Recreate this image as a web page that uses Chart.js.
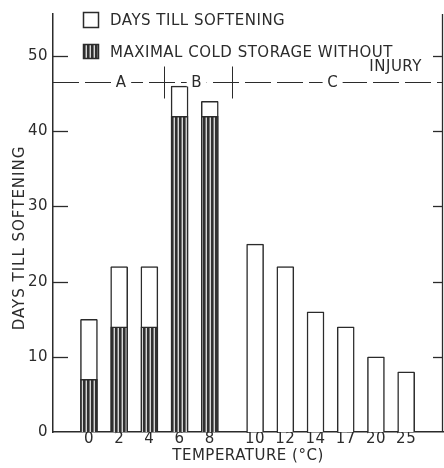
<!DOCTYPE html>
<html>
<head>
<meta charset="utf-8">
<script src="https://cdn.jsdelivr.net/npm/chart.js@4"></script>
<style>
  html, body { margin: 0; padding: 0; background: #fff; }
  #box { width: 444px; height: 468px; }
</style>
</head>
<body>
<div id="box"><canvas id="myChart"></canvas></div>
<script>
const temps = ["0", "2", "4", "6", "8", "10", "12", "14", "17", "20", "25"];
const daysTillSoftening = [15, 22, 22, 46, 44, 25, 22, 16, 14, 10, 8];
const maxColdStorage = [7, 14, 14, 42, 42, null, null, null, null, null, null];
const yTicks = [0, 10, 20, 30, 40, 50];
const zoneNames = ["A", "B", "C"];
const zoneFirst = [0, 3, 5];
const zoneLast = [2, 4, 10];
const zoneLineValue = 46.6;

const ink = "#2b2b2b";
const font = "'DejaVu Sans', sans-serif";

// temperatures from 10 upward sit a bit further away
function slot(i) {
  return i + (i >= 5 ? 0.5 : 0);
}

function makeHatch() {
  const c = document.createElement("canvas");
  c.width = 4;
  c.height = 8;
  const g = c.getContext("2d");
  g.fillStyle = "#303030";
  g.fillRect(0, 0, 4, 8);
  g.fillStyle = "#777";
  g.fillRect(1, 0, 1, 8);
  g.fillStyle = "#d6d6d6";
  g.fillRect(2, 0, 1, 8);
  return g.createPattern(c, "repeat");
}

const decorations = {
  id: "decorations",
  beforeDraw(chart) {
    chart.ctx.letterSpacing = "0.5px";
  },
  afterDraw(chart) {
    const ctx = chart.ctx;
    const area = chart.chartArea;
    const x = chart.scales.x;
    const y = chart.scales.y;
    ctx.save();
    ctx.strokeStyle = ink;
    ctx.fillStyle = ink;

    // inward ticks on left and right axis
    ctx.lineWidth = 1.3;
    yTicks.forEach((v) => {
      const py = Math.round(y.getPixelForValue(v)) + 0.5;
      if (v === 0) return;
      ctx.beginPath();
      ctx.moveTo(area.left, py);
      ctx.lineTo(area.left + 15, py);
      ctx.stroke();
      ctx.beginPath();
      ctx.moveTo(area.right, py);
      ctx.lineTo(area.right - 10, py);
      ctx.stroke();
    });

    // right axis line
    ctx.beginPath();
    ctx.moveTo(area.right - 0.5, area.top);
    ctx.lineTo(area.right - 0.5, area.bottom);
    ctx.stroke();

    // zone line A / B / C
    const ly = Math.round(y.getPixelForValue(zoneLineValue)) + 0.5;
    ctx.lineWidth = 1;
    ctx.setLineDash([26, 6]);
    ctx.beginPath();
    ctx.moveTo(area.left, ly);
    ctx.lineTo(area.right, ly);
    ctx.stroke();
    ctx.setLineDash([]);
    for (let k = 1; k < zoneNames.length; k++) {
      const sx = (x.getPixelForValue(slot(zoneLast[k - 1])) + x.getPixelForValue(slot(zoneFirst[k]))) / 2;
      ctx.beginPath();
      ctx.moveTo(Math.round(sx) + 0.5, ly - 16);
      ctx.lineTo(Math.round(sx) + 0.5, ly + 16);
      ctx.stroke();
    }
    ctx.font = "15px " + font;
    ctx.textAlign = "center";
    ctx.textBaseline = "middle";
    zoneNames.forEach((name, k) => {
      const cx = (x.getPixelForValue(slot(zoneFirst[k])) + x.getPixelForValue(slot(zoneLast[k]))) / 2 + 2;
      ctx.fillStyle = "#fff";
      ctx.fillRect(cx - 10, ly - 4, 20, 8);
      ctx.fillStyle = ink;
      ctx.fillText(name, cx, ly + 1);
    });

    // legend
    ctx.lineWidth = 1.5;
    ctx.fillStyle = "#fff";
    ctx.fillRect(83, 12, 15, 15);
    ctx.strokeRect(83.5, 12.5, 15, 15);
    ctx.fillStyle = makeHatch();
    ctx.fillRect(83, 44, 15, 14);
    ctx.strokeRect(83.5, 44.5, 15, 14);
    ctx.fillStyle = ink;
    ctx.textAlign = "left";
    ctx.textBaseline = "alphabetic";
    ctx.font = "15px " + font;
    ctx.letterSpacing = "0.5px";
    ctx.fillText("DAYS TILL SOFTENING", 110, 25);
    ctx.fillText("MAXIMAL COLD STORAGE WITHOUT", 110, 57);
    ctx.textAlign = "right";
    ctx.fillText("INJURY", 422, 71);

    // y axis title
    ctx.letterSpacing = "1px";
    ctx.translate(20, 238);
    ctx.rotate(-Math.PI / 2);
    ctx.textAlign = "center";
    ctx.textBaseline = "middle";
    ctx.fillText("DAYS TILL SOFTENING", 0, 0);
    ctx.restore();
  }
};

function renderChart() {
  const ctx = document.getElementById("myChart");
  new Chart(ctx, {
    type: "bar",
    data: {
      datasets: [
        {
          label: "DAYS TILL SOFTENING",
          data: temps.map((t, i) => ({ x: slot(i), y: daysTillSoftening[i] })),
          backgroundColor: "#fff",
          borderColor: ink,
          borderWidth: 1.5,
          barThickness: 17,
          borderRadius: 1,
          order: 1
        },
        {
          label: "MAXIMAL COLD STORAGE WITHOUT INJURY",
          data: temps.map((t, i) => ({ x: slot(i), y: maxColdStorage[i] })),
          backgroundColor: makeHatch(),
          borderColor: ink,
          borderWidth: 1.5,
          barThickness: 17,
          order: 0
        }
      ]
    },
    options: {
      responsive: true,
      maintainAspectRatio: false,
      animation: false,
      layout: { padding: { top: 7, right: 1, left: 0, bottom: 0 } },
      plugins: { legend: { display: false }, tooltip: { enabled: false } },
      datasets: { bar: { grouped: false } },
      scales: {
        x: {
          type: "linear",
          offset: false,
          min: -1.19,
          max: 11.72,
          grid: { display: false, drawTicks: false },
          border: { display: true, color: ink, width: 1.5 },
          afterBuildTicks: (scale) => {
            scale.ticks = temps.map((t, i) => ({ value: slot(i) }));
          },
          ticks: {
            autoSkip: false,
            maxRotation: 0,
            padding: -2,
            color: ink,
            font: { family: font, size: 15 },
            callback: (value, index) => temps[index]
          },
          title: {
            display: true,
            text: "TEMPERATURE (°C)",
            color: ink,
            font: { family: font, size: 15 },
            padding: { top: 0, bottom: 3 }
          },
          afterFit: (scale) => { scale.height = 36; }
        },
        y: {
          min: 0,
          max: 55.6,
          grid: { display: false, drawTicks: false },
          border: { display: true, color: ink, width: 1.5 },
          afterBuildTicks: (scale) => {
            scale.ticks = yTicks.map((v) => ({ value: v }));
          },
          ticks: {
            padding: 5,
            color: ink,
            font: { family: font, size: 15 }
          },
          afterFit: (scale) => { scale.width = 53; }
        }
      }
    },
    plugins: [decorations]
  });
}

renderChart();
</script>
</body>
</html>
